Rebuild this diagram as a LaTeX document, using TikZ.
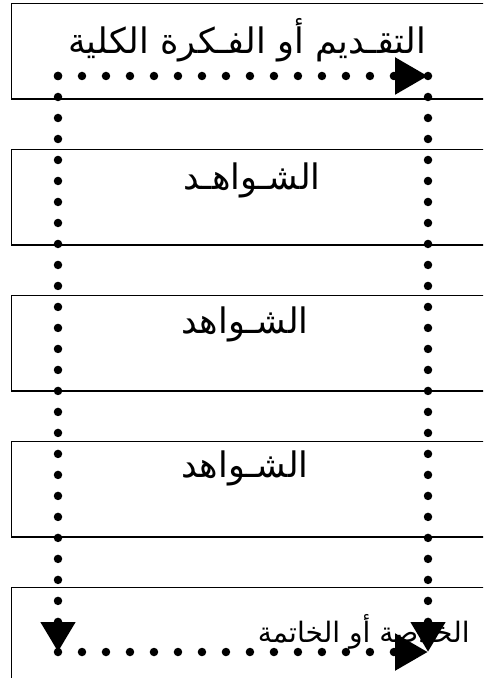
\documentclass[tikz,border=0pt]{standalone}
\usepackage{fontspec}
\newfontfamily\arabicfont[Script=Arabic]{DejaVu Sans}
\TeXXeTstate=1
\usetikzlibrary{positioning,arrows.meta}
\tikzset{
box/.style={
draw,
line width=0.8pt,
minimum width=9.8cm,
minimum height=1.91cm,
inner sep=0pt
},
boxtext/.style={
inner sep=0pt,
font=\arabicfont\fontsize{20}{24}\selectfont
},
endtext/.style={
inner sep=0pt,
font=\arabicfont\fontsize{16}{19}\selectfont
},
hdots/.style={
line width=0.17cm,
line cap=round,
dash pattern=on 0pt off 0.48cm,
-{Triangle[length=0.66cm,width=0.7cm]}
},
vdots/.style={
line width=0.17cm,
line cap=round,
dash pattern=on 0pt off 0.42cm,
-{Triangle[length=0.6cm,width=0.66cm]}
}
}
\begin{document}
\begin{tikzpicture}[x=0.02cm,y=-0.02cm,node distance=0.98cm]
\useasboundingbox (0,0) rectangle (483,678);
\clip (0,0) rectangle (483,678);
\node[box,anchor=north west](b1) at (11,3){};
\node[box,below=of b1](b2){};
\node[box,below=of b2](b3){};
\node[box,below=of b3](b4){};
\node[box,below=of b4](b5){};

\node[boxtext](t1) at (247,40){\beginR التقـديم أو الفـكرة الكلية\endR};
\node[boxtext](t2) at (252,180){\beginR الشـواهـد\endR};
\node[boxtext](t3) at (245,324){\beginR الشـواهد\endR};
\node[boxtext](t4) at (245,468){\beginR الشـواهد\endR};
\node[endtext,anchor=east](t5) at (470,632){\beginR الخلاصة أو الخاتمة\endR};

\coordinate (tl) at (58,76);
\coordinate (tr) at (428,76);
\coordinate (bl) at (58,652);
\coordinate (br) at (428,652);

\draw[hdots](tl)--(tr);
\draw[vdots](tl)--(bl);
\draw[vdots](tr)--(br);
\draw[hdots](bl)--(br);
\end{tikzpicture}
\end{document}
